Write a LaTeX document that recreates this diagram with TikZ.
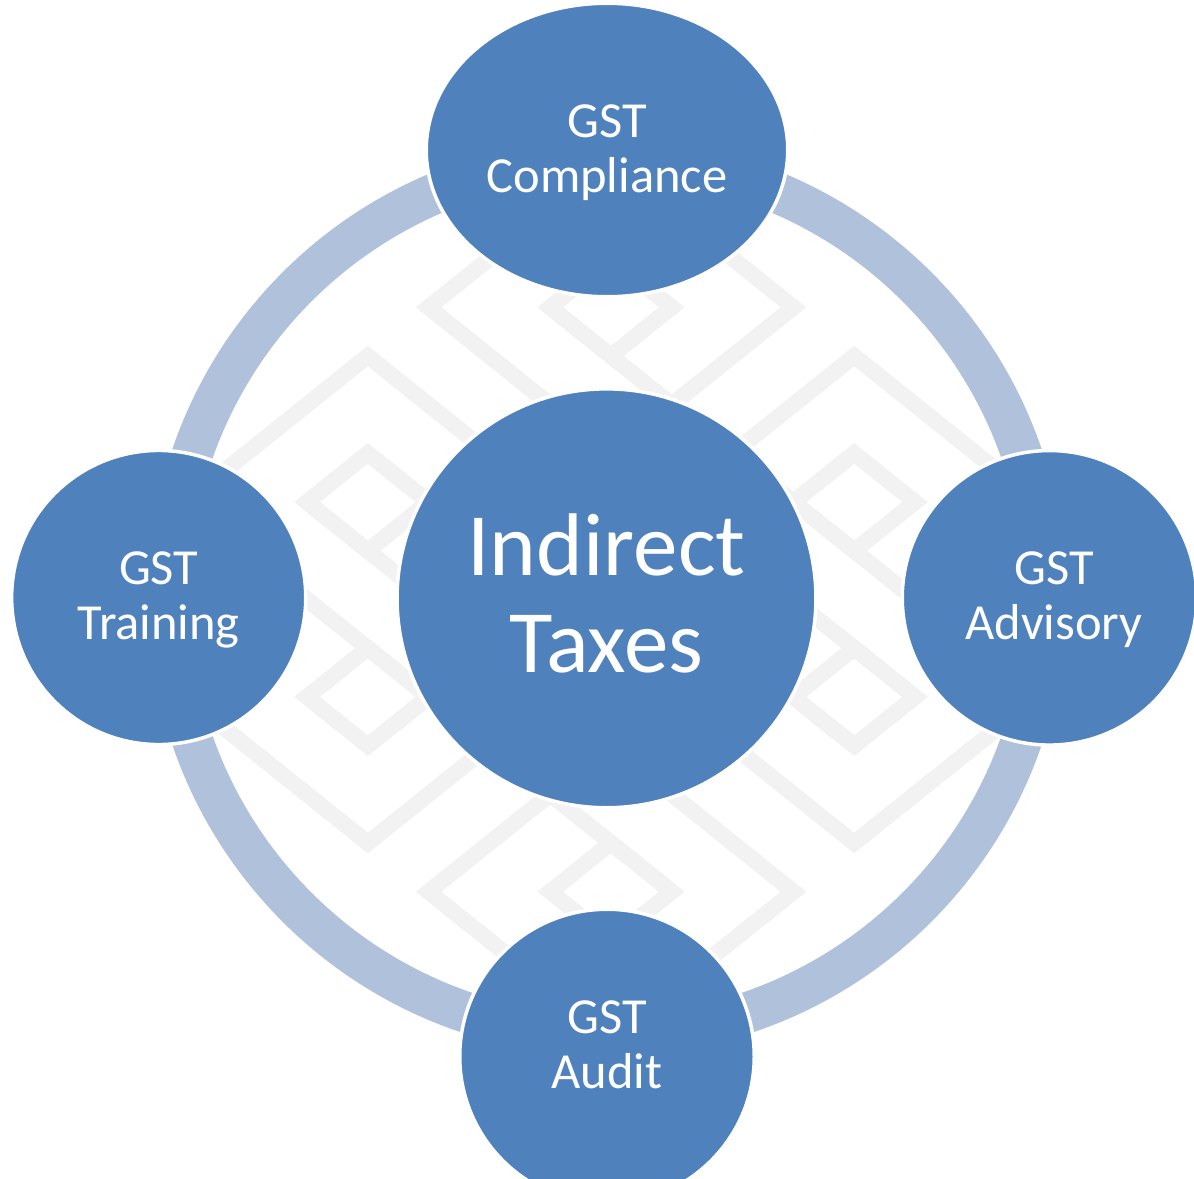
\documentclass[tikz,border=0pt]{standalone}
\usepackage{fontspec}
\setmainfont{Carlito}
\usetikzlibrary{shapes.geometric}
\definecolor{nodeblue}{RGB}{79,129,189}
\definecolor{ringblue}{RGB}{176,193,220}
\definecolor{patgray}{RGB}{242,242,242}
\newcommand\ssup{\rule[-13pt]{0pt}{55pt}}
\newcommand\bsup{\rule[-23pt]{0pt}{97pt}}
\begin{document}
\begin{tikzpicture}[x=1pt,y=-1pt,
  bubble/.style={circle, fill=nodeblue, draw=white, line width=3.5pt, inner sep=0pt,
    text=white, align=center, font=\fontsize{50.5}{55}\selectfont},
  pat/.style={draw=patgray, line width=16pt, line join=miter, line cap=butt},
  ringline/.style={draw=ringblue, line width=41pt}]
\clip (0,0) rectangle (1194,1178);
\fill[white] (0,0) rectangle (1194,1178);
\coordinate (ringc) at (607,597);
% background pattern of diamonds
\begin{scope}
  \clip (ringc) circle[radius=440pt];
  \begin{scope}[shift={(611,599.5)}, x=60.8pt, y=-48.7pt]
    \foreach \cx/\cy in {-4/-2, 4/2, -4/2, 4/-2, 0/-6, 0/6}
      \draw[pat] (\cx-1,\cy) -- (\cx,\cy-1) -- (\cx+1,\cy) -- (\cx,\cy+1) -- cycle;
    \draw[pat] (-7,-2) -- (-4,-5) -- (4,3);
    \draw[pat] (-1,-8) -- (-3,-6) -- (5,2);
    \draw[pat] (7,2) -- (4,5) -- (-4,-3);
    \draw[pat] (1,8) -- (3,6) -- (-5,-2);
    \draw[pat] (7,-2) -- (4,-5) -- (-4,3);
    \draw[pat] (1,-8) -- (3,-6) -- (-3,0);
    \draw[pat] (-7,2) -- (-4,5) -- (4,-3);
    \draw[pat] (-1,8) -- (-3,6) -- (3,0);
    \draw[pat] (-6,-1) -- (1,6);
    \draw[pat] (6,1) -- (-1,-6);
  \end{scope}
\end{scope}
% ring
\draw[ringline] (ringc) circle[radius=438.5pt];
% nodes
\node[bubble, minimum size=418.9pt, font=\fontsize{89}{97}\selectfont] (center) at (606.5,598.3)
  {\bsup Indirect\\\bsup Taxes};
\node[bubble, ellipse, minimum width=361.5pt, minimum height=293.5pt] (comp) at (607,150)
  {\ssup GST\\\ssup Compliance};
\node[bubble, minimum size=294.1pt] (train) at (158.7,597.5)
  {\ssup GST\\\ssup Training};
\node[bubble, minimum size=294.5pt] (adv) at (1049.5,597.8)
  {\ssup\hspace*{9pt}GST\\\ssup\hspace*{9pt}Advisory};
\node[bubble, minimum size=294.5pt] (audit) at (607,1056.5)
  {\ssup GST\\\rule[-33pt]{0pt}{75pt}Audit};
\end{tikzpicture}
\end{document}
